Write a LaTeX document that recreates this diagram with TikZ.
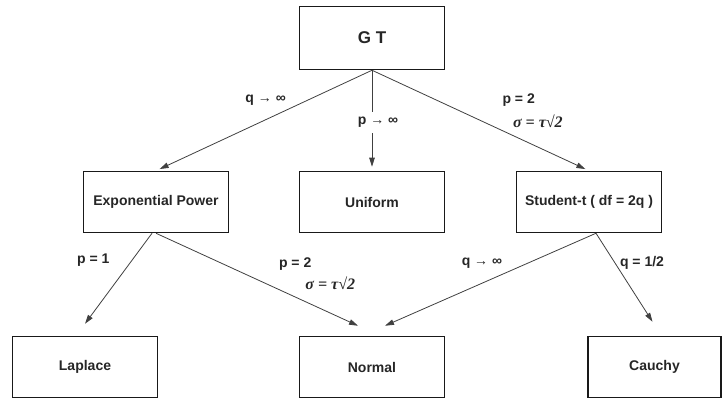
\documentclass[tikz,border=0pt]{standalone}
\usepackage{fontspec}
\setmainfont{Liberation Sans}
\newfontfamily\formfont{Liberation Serif}
\usetikzlibrary{arrows.meta,positioning}

\begin{document}
\begin{tikzpicture}[
  x=1pt, y=-1pt,
  on grid,
  font=\bfseries\fontsize{14}{16}\selectfont,
  % Node styles
  dist/.style={rectangle, draw=black!90, line width=1.5pt, minimum width=145pt, minimum height=61pt, align=center, text=black!85},
  lbl/.style={inner sep=1pt, text=black!85},
  form/.style={inner sep=1pt, font=\formfont\bfseries\itshape\fontsize{16}{18}\selectfont, text=black!85},
  arr/.style={-{Triangle[length=9pt,width=5.5pt]}, line width=0.8pt, color=black!75}
]
  \useasboundingbox (0,0) rectangle (722,398);

  % Top: generalized t
  \node[dist, minimum height=63pt, font=\bfseries\fontsize{17}{19}\selectfont] (gt) at (372,38) {G T};

  % Middle row
  \node[dist, below=164pt of gt] (uni) {Uniform};
  \node[dist, left=216pt of uni] (ep) {Exponential Power};
  \node[dist, right=217pt of uni] (stu) {Student-t ( df = 2q )};

  % Bottom row
  \node[dist, below=165pt of uni] (nrm) {Normal};
  \node[dist, left=287pt of nrm] (lap) {Laplace};
  \node[dist, right=282.5pt of nrm, minimum width=133pt] (cau) {Cauchy};

  % Edges: GT -> middle row
  \draw[arr, shorten >=4pt] (gt.south) -- node[lbl, pos=0.3, left=20pt] {q → ∞} (ep.north);
  \draw[arr, shorten >=4pt] (gt.south) -- node[lbl, pos=0.52, fill=white, inner sep=5pt, xshift=6pt] {p → ∞} (uni.north);
  \draw[arr, shorten >=4pt] (gt.south) -- node[lbl, pos=0.3, right=64pt] {p = 2}
    node[form, pos=0.51, right=29pt] {σ = τ√2} (stu.north);

  % Edges: Exponential Power -> bottom row
  \draw[arr] ([xshift=-4pt]ep.south) -- node[lbl, pos=0.3, left=21pt] {p = 1} ([yshift=12pt]lap.north);
  \draw[arr] (ep.south) -- node[lbl, pos=0.33, right=55pt] {p = 2}
    node[form, pos=0.54, right=39pt] {σ = τ√2} ([xshift=-14pt, yshift=10pt]nrm.north);

  % Edges: Student-t -> bottom row
  \draw[arr] ([xshift=7pt]stu.south) -- node[lbl, pos=0.32, left=25pt] {q → ∞} ([xshift=13pt, yshift=10pt]nrm.north);
  \draw[arr] ([xshift=7pt]stu.south) -- node[lbl, pos=0.33, right=4pt] {q = 1/2} ([xshift=-2pt, yshift=14pt]cau.north);

\end{tikzpicture}
\end{document}
